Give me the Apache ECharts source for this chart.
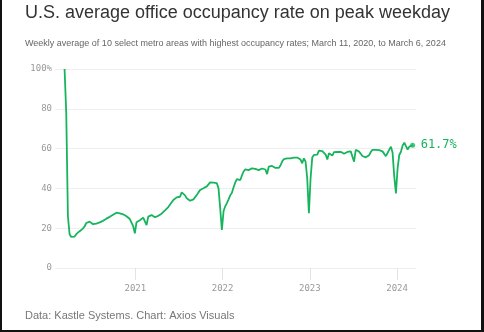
<!DOCTYPE html>
<html>
<head>
<meta charset="utf-8">
<script src="https://cdn.jsdelivr.net/npm/echarts@6/dist/echarts.min.js"></script>
<style>
html,body{margin:0;padding:0;background:#fff;}
#wrap{position:relative;width:484px;height:332px;box-sizing:border-box;border-left:2px solid #111;border-right:3px solid #111;border-bottom:2px solid #111;}
#chart{position:absolute;left:-2px;top:0;width:484px;height:332px;}
</style>
</head>
<body>
<div id="wrap"><div id="chart"></div></div>
<script>
// Weekly series, first week = March 11, 2020, last week = March 6, 2024
const startDate = '2020-03-11';
const occupancy = [
100,78,26,17,15.6,15.4,15.8,17,17.8,18.5,19.2,19.8,21,22.6,23.2,23.3,22.8,22,22.2,22.3,
22.6,22.9,23.3,23.7,24.2,24.8,25.3,25.7,26.2,26.8,27.3,27.8,27.7,27.5,27.2,27.0,26.5,26.0,25.2,24.6,
24.6,21,17.4,23,23.6,24,24.3,25.3,24.8,21.6,25.8,26.2,26.6,26.1,25.5,25.9,26.2,26.6,27.3,28.2,
29.0,29.8,30.6,31.6,33,34.2,34.8,35.5,35.5,35.8,38.0,37.2,36.5,35.0,34.3,33.8,34.0,34.5,35.5,36.7,
38.0,39.2,39.6,40.1,40.5,41.0,41.7,43.0,43.6,42.9,43.9,42.6,40,30,19.1,28.5,31,32.6,34.5,36.5,
37.8,40.6,43,44.6,45.6,44.2,46.5,48.5,49.6,49.4,49.2,49.7,50.1,49.9,49.8,49.7,49.2,49.5,50.0,49.6,
49.5,47.2,50.9,51.6,51.3,50.8,50.3,50.1,50.3,51.5,53.5,54.7,55.0,55.1,55.1,55.1,55.2,55.5,55.0,55.5,
56.2,54.5,52.6,55.1,53.5,45,27.5,45,55.5,56.8,57.2,57,59.0,58.0,58.7,58.6,57.0,54.5,57.7,57.0,
56.5,58.2,59.0,58.3,58.0,58.4,57.8,57.4,57.8,58.3,58.8,58.6,58.2,53.4,59.4,59.5,58.5,57.6,56.3,55.8,
55.6,55.8,56.7,58.3,59.4,59.5,59.4,58.9,59.2,58.8,58.6,58.6,56.2,57.8,59.5,60.9,58.0,46,37.5,50,
56.8,58.4,61.5,63,61.2,59.5,61,61.3,61.7
];
const yTicks = [0, 20, 40, 60, 80, 100];
const titleText = 'U.S. average office occupancy rate on peak weekday';
const subtitleText = 'Weekly average of 10 select metro areas with highest occupancy rates; March 11, 2020, to March 6, 2024';
const footerText = 'Data: Kastle Systems. Chart: Axios Visuals';

const DAY = 86400000;
const t0 = Date.parse(startDate + 'T00:00:00Z');
const weeks = occupancy.map((v, i) => [t0 + i * 7 * DAY, v]);
const last = weeks[weeks.length - 1];
const green = '#17b45e';
const mono = '"DejaVu Sans Mono", monospace';

const chart = echarts.init(document.getElementById('chart'), null, {renderer: 'canvas'});
chart.setOption({
  animation: false,
  backgroundColor: 'transparent',
  title: [
    {text: titleText, left: 25, top: 4, padding: 0, textStyle: {fontFamily: 'Liberation Sans, Arial', fontSize: 18, fontWeight: 'normal', color: '#333'}},
    {text: subtitleText, left: 25, top: 39, padding: 0, textStyle: {fontFamily: 'Liberation Sans, Arial', fontSize: 9, fontWeight: 'normal', color: '#666'}},
    {text: footerText, left: 25, top: 310, padding: 0, textStyle: {fontFamily: 'Liberation Sans, Arial', fontSize: 11, fontWeight: 'normal', color: '#777'}}
  ],
  grid: {left: 55, right: 68, top: 69, bottom: 64, containLabel: false},
  xAxis: {
    type: 'time',
    min: Date.parse('2020-01-31T00:00:00Z'),
    max: Date.parse('2024-03-20T00:00:00Z'),
    minInterval: 365 * DAY,
    splitNumber: 4,
    axisLine: {show: false},
    axisTick: {show: true, length: 12, lineStyle: {color: '#e3e3e3'}},
    splitLine: {show: false},
    axisLabel: {formatter: '{yyyy}', color: '#999', fontFamily: mono, fontSize: 9, margin: 16, showMinLabel: false, showMaxLabel: false}
  },
  yAxis: {
    type: 'value',
    min: yTicks[0], max: yTicks[yTicks.length - 1], interval: 20,
    axisLine: {show: false},
    axisTick: {show: false},
    splitLine: {lineStyle: {color: '#eeeeee'}},
    axisLabel: {color: '#999', fontFamily: mono, fontSize: 9, margin: 3,
      formatter: v => v === 100 ? '100%' : String(v)}
  },
  series: [
    {
      type: 'line', data: weeks, showSymbol: false, smooth: false,
      lineStyle: {color: green, width: 1.8},
      endLabel: {show: true, formatter: p => p.value[1].toFixed(1) + '%', color: green, fontFamily: mono, fontSize: 12, distance: 8}
    },
    {
      type: 'scatter', data: [last], symbolSize: 5, itemStyle: {color: green}
    }
  ]
});
</script>
</body>
</html>
